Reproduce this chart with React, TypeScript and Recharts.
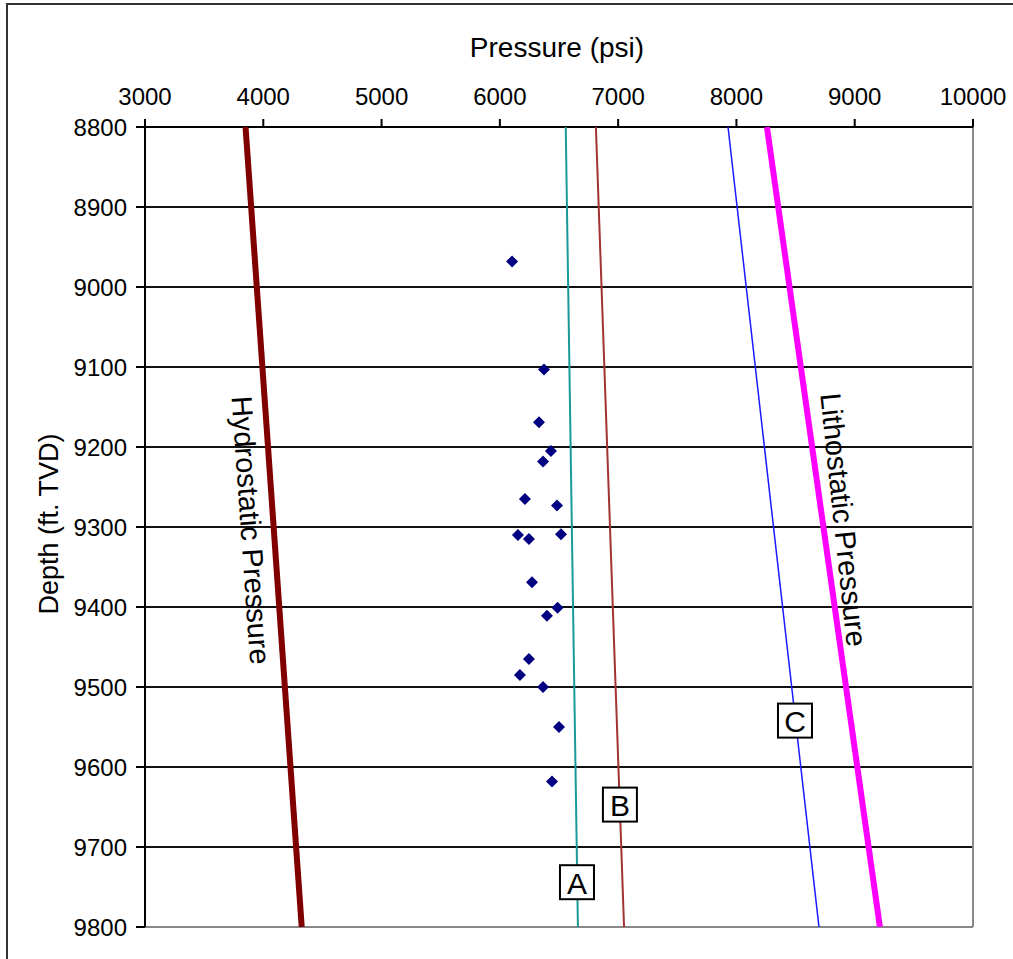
import { CartesianGrid, ComposedChart, Label, ReferenceLine, Scatter, XAxis, YAxis } from 'recharts';

const pressureTicks = [3000, 4000, 5000, 6000, 7000, 8000, 9000, 10000];
const depthTicks = [8800, 8900, 9000, 9100, 9200, 9300, 9400, 9500, 9600, 9700, 9800];

// gradient lines, pressure (psi) vs depth (ft TVD)
const hydrostatic = [{ p: 3850, d: 8800 }, { p: 4325, d: 9800 }];
const gradientA = [{ p: 6557, d: 8800 }, { p: 6660, d: 9800 }];
const gradientB = [{ p: 6812, d: 8800 }, { p: 7050, d: 9800 }];
const gradientC = [{ p: 7929, d: 8800 }, { p: 8698, d: 9800 }];
const lithostatic = [{ p: 8258, d: 8800 }, { p: 9213, d: 9800 }];

// measured formation pressures
const measured = [
  { p: 6103, d: 8968 },
  { p: 6373, d: 9103 },
  { p: 6331, d: 9169 },
  { p: 6432, d: 9205 },
  { p: 6365, d: 9218 },
  { p: 6212, d: 9265 },
  { p: 6483, d: 9273 },
  { p: 6153, d: 9310 },
  { p: 6246, d: 9315 },
  { p: 6517, d: 9309 },
  { p: 6272, d: 9369 },
  { p: 6488, d: 9401 },
  { p: 6398, d: 9411 },
  { p: 6246, d: 9465 },
  { p: 6170, d: 9485 },
  { p: 6365, d: 9500 },
  { p: 6500, d: 9550 },
  { p: 6441, d: 9618 },
];

const boxLabels = [
  { p: 6652, d: 9744, text: 'A' },
  { p: 7015, d: 9647, text: 'B' },
  { p: 8495, d: 9542, text: 'C' },
];

const hydroLabel = [{ p: 3895, d: 9304, text: 'Hydrostatic Pressure' }];
const lithoLabel = [{ p: 8905, d: 9291, text: 'Lithostatic Pressure' }];

const FONT = '"Liberation Sans", Arial, sans-serif';

const noDot = () => <g />;

function Diamond({ cx, cy }: any) {
  const r = 6;
  return <polygon points={`${cx},${cy - r} ${cx + r},${cy} ${cx},${cy + r} ${cx - r},${cy}`} fill="#000080" />;
}

function BoxLabel({ cx, cy, payload }: any) {
  const s = 34;
  return (
    <g>
      <rect x={cx - s / 2} y={cy - s / 2} width={s} height={s} fill="#fff" stroke="#000" strokeWidth={2} />
      <text x={cx} y={cy + 1} textAnchor="middle" dominantBaseline="central" fontSize={30} fontFamily={FONT} fill="#000">
        {payload.text}
      </text>
    </g>
  );
}

// rotated text that follows the slope of its curve
const slanted = (angle: number) =>
  function SlantLabel({ cx, cy, payload }: any) {
    return (
      <text
        transform={`translate(${cx},${cy}) rotate(${angle})`}
        textAnchor="middle"
        dominantBaseline="central"
        fontSize={29}
        fontFamily={FONT}
        fill="#000"
      >
        {payload.text}
      </text>
    );
  };

const HydroText = slanted(86);
const LithoText = slanted(84);

function XTitle({ viewBox }: any) {
  const vb = viewBox ?? { x: 145, y: 0, width: 828 };
  return (
    <text x={vb.x + vb.width / 2 - 2} y={vb.y + 57} textAnchor="middle" fontSize={28} fontFamily={FONT} fill="#000">
      Pressure (psi)
    </text>
  );
}

function YTitle({ viewBox }: any) {
  const vb = viewBox ?? { x: 0, y: 127, height: 800 };
  const cx = vb.x + 49;
  const cy = vb.y + vb.height / 2 - 3;
  return (
    <text
      transform={`translate(${cx},${cy}) rotate(-90)`}
      textAnchor="middle"
      dominantBaseline="central"
      fontSize={27}
      fontFamily={FONT}
      fill="#000"
    >
      Depth (ft. TVD)
    </text>
  );
}

const tickStyle = { fontSize: 24, fill: '#000', fontFamily: FONT };

export default function App() {
  return (
    <div style={{ position: 'absolute', left: 0, top: 0, width: 1013, height: 959, overflow: 'hidden', background: '#fff' }}>
      <ComposedChart width={1013} height={959} margin={{ top: 0, right: 40, bottom: 32, left: 0 }}>
        <CartesianGrid vertical={false} stroke="#111" strokeWidth={2} />
        <XAxis
          type="number"
          dataKey="p"
          orientation="top"
          domain={[3000, 10000]}
          ticks={pressureTicks}
          allowDataOverflow
          height={127}
          tickSize={8}
          tickMargin={14}
          tick={tickStyle}
          axisLine={{ stroke: '#000', strokeWidth: 2 }}
          tickLine={{ stroke: '#000', strokeWidth: 2 }}
        >
          <Label content={XTitle} />
        </XAxis>
        <YAxis
          type="number"
          dataKey="d"
          reversed
          domain={[8800, 9800]}
          ticks={depthTicks}
          allowDataOverflow
          width={145}
          tickSize={9}
          tickMargin={9}
          tick={tickStyle}
          axisLine={{ stroke: '#000', strokeWidth: 2 }}
          tickLine={{ stroke: '#000', strokeWidth: 2 }}
        >
          <Label content={YTitle} />
        </YAxis>
        <ReferenceLine y={9800} stroke="#888" strokeWidth={2} />
        <ReferenceLine x={10000} stroke="#888" strokeWidth={2} />
        <Scatter data={hydrostatic} line={{ stroke: '#800000', strokeWidth: 6 }} shape={noDot} isAnimationActive={false} />
        <Scatter data={gradientA} line={{ stroke: '#1a9999', strokeWidth: 2 }} shape={noDot} isAnimationActive={false} />
        <Scatter data={gradientB} line={{ stroke: '#a33333', strokeWidth: 2 }} shape={noDot} isAnimationActive={false} />
        <Scatter data={gradientC} line={{ stroke: '#1a1aff', strokeWidth: 1.5 }} shape={noDot} isAnimationActive={false} />
        <Scatter data={lithostatic} line={{ stroke: '#ff00ff', strokeWidth: 6 }} shape={noDot} isAnimationActive={false} />
        <Scatter data={measured} shape={Diamond} isAnimationActive={false} />
        <Scatter data={boxLabels} shape={BoxLabel} isAnimationActive={false} />
        <Scatter data={hydroLabel} shape={HydroText} isAnimationActive={false} />
        <Scatter data={lithoLabel} shape={LithoText} isAnimationActive={false} />
      </ComposedChart>
      <div
        style={{
          position: 'absolute',
          left: 6,
          top: 3,
          width: 1100,
          height: 1100,
          border: '2px solid #333',
          boxSizing: 'border-box',
          pointerEvents: 'none',
        }}
      />
    </div>
  );
}
